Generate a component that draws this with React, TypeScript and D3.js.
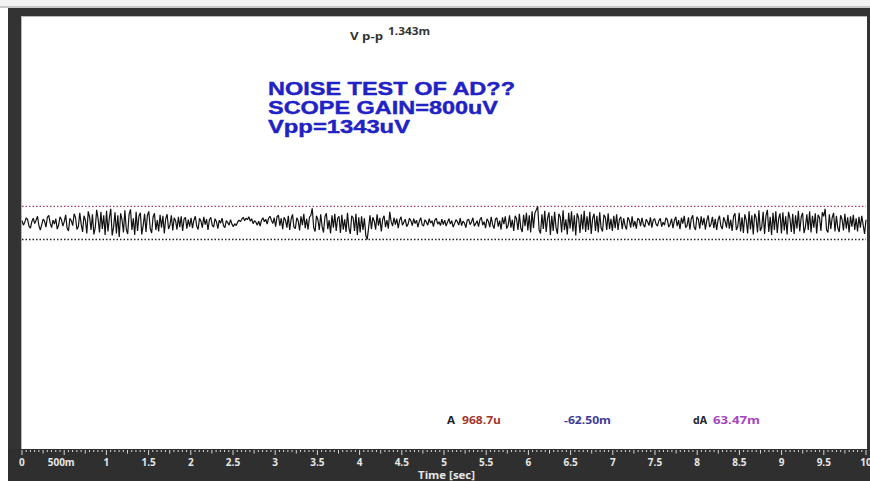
import React from "react";
import * as d3 from "d3";

// ---- data (mV, sampled uniformly over 0..10 s) ----
const noise: number[] = [
  // 0-1 s
  0.08,-0.10,0.02,0.20,0.12,-0.15,-0.22,0.05,0.18,-0.04,0.10,0.26,-0.12,-0.30,-0.08,0.14,0.06,-0.18,0.22,0.30,-0.02,-0.20,0.10,-0.06,0.16,-0.26,-0.10,0.24,0.12,-0.14,0.04,0.32,-0.22,-0.34,0.18,0.08,-0.12,0.36,0.20,-0.28,-0.16,0.40,-0.06,-0.38,0.28,0.10,-0.44,0.46,0.22,-0.30,0.34,-0.48,-0.20,0.52,0.16,-0.40,0.44,-0.26,0.30,-0.50,
  // 1-2 s
  0.48,-0.36,0.20,0.56,-0.52,-0.18,0.42,-0.44,0.30,-0.58,0.38,0.12,-0.40,0.50,-0.26,-0.46,0.34,0.54,-0.30,0.18,-0.50,0.44,-0.34,0.26,0.40,-0.48,-0.12,0.36,-0.38,0.30,0.46,-0.24,-0.42,0.22,0.38,-0.30,0.10,-0.36,0.32,-0.20,0.28,-0.44,0.16,0.34,-0.26,-0.10,0.30,-0.32,0.20,0.08,-0.28,0.24,-0.18,0.26,-0.34,0.14,0.22,-0.24,0.12,-0.16,
  // 2-3 s
  0.20,-0.22,0.10,0.26,-0.14,-0.28,0.18,0.06,-0.20,0.24,-0.08,0.14,-0.30,0.12,0.22,-0.10,-0.18,0.16,0.04,-0.24,0.10,-0.02,0.18,-0.12,-0.20,0.08,0.00,-0.10,0.12,-0.06,-0.16,-0.04,-0.12,0.02,0.10,0.04,0.14,0.22,0.08,0.18,0.12,0.24,0.06,0.16,-0.04,0.08,0.02,-0.10,0.06,-0.14,0.10,0.20,0.04,0.14,-0.06,0.18,0.26,0.10,-0.04,0.20,
  // 3-4 s
  -0.16,0.24,0.30,-0.12,0.18,-0.26,0.22,0.10,-0.20,0.28,-0.30,0.14,0.34,-0.18,-0.24,0.20,0.08,-0.32,0.26,-0.10,0.36,-0.22,0.16,-0.28,0.22,0.30,0.58,-0.20,-0.36,0.28,0.12,-0.30,0.34,-0.16,-0.40,0.24,0.38,-0.26,0.10,-0.44,0.30,-0.20,0.36,-0.34,0.18,0.26,-0.42,0.32,-0.28,0.14,-0.38,0.40,-0.22,-0.46,0.28,0.20,-0.34,0.36,-0.50,0.22,
  // 4-5 s
  -0.40,0.26,-0.30,0.18,-0.52,-0.683,-0.20,0.30,-0.26,0.22,0.06,-0.28,0.34,-0.12,0.20,-0.36,0.14,0.28,-0.18,0.10,-0.24,0.44,0.04,-0.14,0.20,-0.08,0.16,-0.22,0.10,0.24,-0.10,0.02,0.14,-0.16,-0.06,0.18,0.08,-0.12,0.16,-0.04,0.10,-0.18,0.06,0.20,-0.08,-0.14,0.12,0.02,-0.10,0.16,-0.02,0.08,-0.16,0.10,0.18,-0.06,0.04,-0.12,0.14,-0.08,
  // 5-6 s
  0.10,-0.14,0.02,0.16,-0.06,0.08,-0.18,-0.04,0.12,0.04,-0.10,0.18,-0.12,0.06,-0.02,-0.20,0.10,0.14,-0.08,0.02,0.20,-0.14,-0.04,0.08,-0.16,0.12,0.22,-0.10,0.04,-0.22,0.16,0.06,-0.18,0.24,-0.08,-0.24,0.14,0.20,-0.16,0.08,-0.28,0.22,-0.06,0.26,-0.24,-0.12,0.30,-0.20,0.12,-0.34,0.28,0.16,-0.30,0.36,-0.22,-0.38,0.32,-0.14,0.40,-0.32,
  // 6-7 s
  0.30,-0.40,0.46,-0.22,0.38,0.52,0.66,-0.30,-0.44,0.34,-0.26,0.48,-0.38,0.18,0.42,-0.50,0.28,-0.34,0.44,-0.20,-0.46,0.36,0.24,-0.40,0.50,-0.30,0.14,-0.48,0.40,-0.24,0.46,-0.36,0.30,-0.52,0.38,0.20,-0.42,0.34,-0.28,0.48,-0.38,0.26,-0.30,0.44,-0.46,0.18,0.36,-0.34,0.28,-0.40,0.42,-0.22,-0.36,0.32,0.22,-0.30,0.38,-0.26,0.16,-0.34,
  // 7-8 s
  0.28,-0.22,0.34,-0.30,0.14,0.24,-0.26,0.18,-0.12,-0.28,0.22,0.10,-0.20,0.26,-0.16,0.06,-0.24,0.18,0.12,-0.14,0.20,-0.08,-0.18,0.14,0.04,-0.12,0.22,-0.20,0.10,0.16,-0.06,-0.14,0.08,0.18,-0.16,0.02,-0.10,0.20,0.12,-0.18,-0.06,0.16,-0.22,0.08,0.24,-0.14,0.10,-0.26,0.20,-0.04,0.28,-0.20,-0.12,0.22,-0.28,0.16,0.30,-0.18,-0.30,0.24,
  // 8-9 s
  0.14,-0.24,0.26,-0.10,0.20,-0.28,0.08,0.30,-0.18,-0.06,0.24,-0.22,0.16,-0.30,0.10,0.28,-0.14,-0.26,0.22,0.06,-0.20,0.32,-0.24,0.12,-0.34,0.26,0.38,-0.30,-0.16,0.40,-0.36,0.22,-0.42,0.34,0.10,-0.44,0.46,-0.28,0.30,-0.48,0.36,0.20,-0.40,0.50,-0.34,-0.18,0.44,-0.46,0.28,0.52,-0.38,0.24,-0.50,0.40,-0.30,0.46,-0.42,0.16,0.38,-0.44,
  // 9-10 s
  0.42,-0.32,0.26,-0.48,0.44,0.18,-0.38,0.36,-0.46,0.30,-0.24,0.48,-0.36,0.22,0.40,-0.42,-0.18,0.34,-0.30,0.46,-0.40,0.28,-0.20,0.38,-0.44,0.32,0.20,-0.34,0.42,0.26,0.56,-0.30,-0.40,0.34,-0.26,0.20,0.40,-0.36,0.28,-0.22,-0.38,0.30,0.14,-0.32,0.36,-0.24,0.22,-0.40,0.26,-0.16,0.32,-0.30,0.18,-0.36,0.24,-0.20,0.28,-0.10,-0.46,0.12,
];
const timeSpan = [0, 10];
const peakLevels = [0.66, -0.683]; // max / min cursors (Vpp = 1.343 mV)
const tickValues = [0, 0.5, 1, 1.5, 2, 2.5, 3, 3.5, 4, 4.5, 5, 5.5, 6, 6.5, 7, 7.5, 8, 8.5, 9, 9.5, 10];
const tickLabels = ["0", "500m", "1", "1.5", "2", "2.5", "3", "3.5", "4", "4.5", "5", "5.5", "6", "6.5", "7", "7.5", "8", "8.5", "9", "9.5", "10"];
const titleLines = ["NOISE TEST OF AD??", "SCOPE GAIN=800uV", "Vpp=1343uV"];
const vppLabel = "V p-p";
const vppValue = "1.343m";
const cursorLabels = ["A", "968.7u", "-62.50m", "dA", "63.47m"];
const axisTitle = "Time [sec]";

export default function App() {
  const W = 870, H = 481;
  const plot = { left: 22, right: 866, top: 16, bottom: 449 };
  const x = d3.scaleLinear().domain(timeSpan).range([plot.left, plot.right]);
  const y = d3.scaleLinear().domain([-9.2, 8.4]).range([plot.bottom, plot.top]);
  const dt = (timeSpan[1] - timeSpan[0]) / (noise.length - 1);
  const line = d3
    .line<number>()
    .x((_, i) => x(i * dt))
    .y((d) => y(d));
  const minorTicks = d3.range(0, 201).map((i) => i * 0.05);
  const titleWidths = [247, 230, 142];
  const axisFont = "'Open Sans', 'DejaVu Sans', sans-serif";
  const cursorStyle = [
    { x: 447, w: 8, c: "#222" },
    { x: 462, w: 39, c: "#a3362a" },
    { x: 564, w: 47, c: "#3a3a9c" },
    { x: 693, w: 14, c: "#222" },
    { x: 713, w: 47, c: "#a244c2" },
  ];
  return (
    <svg
      width={W}
      height={H}
      style={{ position: "absolute", left: 0, top: 0, display: "block" }}
    >
      <rect x={0} y={0} width={W} height={H} fill="#ffffff" />
      <rect x={0} y={0} width={W} height={7} fill="#f2f2f2" />
      <rect x={0} y={6} width={W} height={2} fill="#c8c8c8" />
      {/* frame */}
      <rect x={8} y={8} width={W - 8} height={8} fill="#333333" />
      <rect x={8} y={8} width={13} height={H - 8} fill="#333333" />
      <rect x={8} y={449} width={W - 8} height={H - 449} fill="#2f2f2f" />
      <rect x={867} y={8} width={3} height={441} fill="#333333" />
      <rect x={21} y={16} width={1} height={433} fill="#b8b8b8" />
      <rect x={21} y={16} width={846} height={1} fill="#b8b8b8" />

      {/* Vp-p readout */}
      <text x={350} y={40} fontFamily={axisFont} fontWeight={700} fontSize={11} fill="#333"
        textLength={33} lengthAdjust="spacingAndGlyphs">
        {vppLabel}
      </text>
      <text x={388} y={35} fontFamily={axisFont} fontWeight={700} fontSize={10} fill="#333"
        textLength={42} lengthAdjust="spacingAndGlyphs">
        {vppValue}
      </text>

      {/* title */}
      {titleLines.map((t, i) => (
        <text
          key={t}
          x={268}
          y={95 + i * 19}
          fontFamily="'Liberation Sans', Arial, sans-serif"
          fontWeight={700}
          fontSize={18}
          fill="#1f22c4"
          stroke="#1f22c4"
          strokeWidth={0.4}
          textLength={titleWidths[i]}
          lengthAdjust="spacingAndGlyphs"
        >
          {t}
        </text>
      ))}

      {/* peak cursors */}
      <line
        x1={plot.left}
        x2={plot.right}
        y1={y(peakLevels[0])}
        y2={y(peakLevels[0])}
        stroke="#a0405a"
        strokeWidth={1.2}
        strokeDasharray="1.5,2"
      />
      <line
        x1={plot.left}
        x2={plot.right}
        y1={y(peakLevels[1])}
        y2={y(peakLevels[1])}
        stroke="#222"
        strokeWidth={1.5}
        strokeDasharray="1.5,2"
      />

      {/* trace */}
      <path d={line(noise) ?? ""} fill="none" stroke="#111" strokeWidth={1.2} strokeLinejoin="bevel" />

      {/* cursor readouts */}
      <g fontFamily={axisFont} fontWeight={700} fontSize={10.5}>
        {cursorLabels.map((t, i) => (
          <text key={t} x={cursorStyle[i].x} y={424} fill={cursorStyle[i].c}
            textLength={cursorStyle[i].w} lengthAdjust="spacingAndGlyphs">
            {t}
          </text>
        ))}
      </g>

      {/* time axis */}
      <g>
        {minorTicks.map((t, i) => {
          const len = i % 10 === 0 ? 5 : i % 5 === 0 ? 3.5 : 2;
          return (
            <line
              key={i}
              x1={x(t)}
              x2={x(t)}
              y1={450}
              y2={450 + len}
              stroke="#d8d8d8"
              strokeWidth={1}
            />
          );
        })}
        {tickValues.map((t, i) => (
          <text
            key={t}
            x={x(t)}
            y={466}
            textAnchor={i === 0 ? "start" : "middle"}
            dx={i === 0 ? -3 : i === 1 ? -3 : 0}
            fontFamily={axisFont}
            fontWeight={700}
            fontSize={10}
            fill="#e6e6e6"
          >
            {tickLabels[i]}
          </text>
        ))}
        <text
          x={418}
          y={479}
          fontFamily={axisFont}
          fontWeight={700}
          fontSize={10}
          fill="#e6e6e6"
          textLength={57}
          lengthAdjust="spacingAndGlyphs"
        >
          {axisTitle}
        </text>
      </g>
    </svg>
  );
}
